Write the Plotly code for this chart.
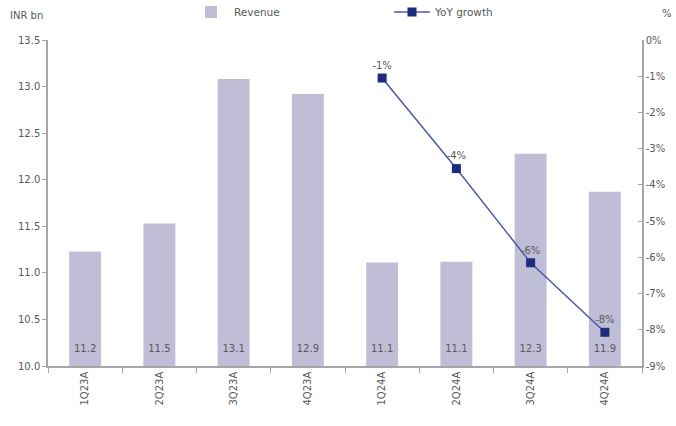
import plotly.graph_objects as go

quarters = ["1Q23A", "2Q23A", "3Q23A", "4Q23A", "1Q24A", "2Q24A", "3Q24A", "4Q24A"]
revenue = [11.23, 11.53, 13.08, 12.92, 11.11, 11.12, 12.28, 11.87]
yoy_quarters = ["1Q24A", "2Q24A", "3Q24A", "4Q24A"]
yoy_growth = [-1.05, -3.55, -6.15, -8.07]
left_ticks = [10.0, 10.5, 11.0, 11.5, 12.0, 12.5, 13.0, 13.5]
right_ticks = [0, -1, -2, -3, -4, -5, -6, -7, -8, -9]
label_base = 10.18  # vertical position of the bar value labels (INR bn axis)

FONT = "DejaVu Sans"
TXT = "#595959"
AX = "#A6A6A6"
L, R, T, B = 48, 34, 40, 60
W, H = 676, 426
pw, ph = W - L - R, H - T - B

fig = go.Figure()
fig.add_trace(go.Bar(
    x=quarters, y=revenue, name="Revenue",
    marker=dict(color="#BFBED6", line=dict(width=0)),
    width=0.43, yaxis="y", hoverinfo="x+y",
))
fig.add_trace(go.Scatter(
    x=quarters, y=[label_base] * len(quarters), mode="text",
    text=[f"{v:.1f}" for v in revenue], textposition="middle center",
    textfont=dict(family=FONT, size=10, color=TXT),
    showlegend=False, hoverinfo="skip", yaxis="y",
))
fig.add_trace(go.Scatter(
    x=yoy_quarters, y=yoy_growth, name="YoY growth",
    mode="lines+markers+text",
    line=dict(color="#4C5AA6", width=1.5),
    marker=dict(symbol="square", size=9, color="#1F2C7E"),
    text=[f"{round(v):.0f}%" for v in yoy_growth],
    textposition="top center",
    textfont=dict(family=FONT, size=10, color=TXT),
    yaxis="y2",
))

fig.update_layout(
    width=W, height=H,
    margin=dict(l=L, r=R, t=T, b=B, autoexpand=False),
    paper_bgcolor="white", plot_bgcolor="white",
    font=dict(family=FONT, size=10, color=TXT),
    showlegend=True,
    legend=dict(orientation="h", x=(188 - L) / pw, y=1 - 12 / H, xref="paper", yref="container",
                xanchor="left", yanchor="middle",
                entrywidth=150, entrywidthmode="pixels", itemwidth=36,
                font=dict(family=FONT, size=10.5, color=TXT), bgcolor="rgba(0,0,0,0)"),
    xaxis=dict(
        type="category", showline=True, linecolor=AX, linewidth=1.5,
        ticks="outside", tickson="boundaries", ticklen=5, tickcolor=AX,
        tickangle=-90, showgrid=False, zeroline=False,
        tickfont=dict(family=FONT, size=10, color=TXT),
    ),
    yaxis=dict(
        range=[10, 13.5], tickvals=left_ticks, ticktext=[f"{v:.1f}" for v in left_ticks],
        showline=True, linecolor=AX, linewidth=1.5, ticks="outside", ticklen=4,
        tickcolor=AX, showgrid=False, zeroline=False,
        tickfont=dict(family=FONT, size=10, color=TXT),
    ),
    yaxis2=dict(
        overlaying="y", side="right", range=[-9, 0],
        tickvals=right_ticks, ticktext=[f"{v}%" for v in right_ticks],
        showline=True, linecolor=AX, linewidth=1.5, ticks="inside", ticklen=4,
        tickcolor=AX, showgrid=False, zeroline=False,
        tickfont=dict(family=FONT, size=10, color=TXT),
    ),
    annotations=[
        dict(text="INR bn", x=(8 - L) / pw, y=1 + (T - 15) / ph, xref="paper", yref="paper",
             showarrow=False, xanchor="left", yanchor="middle",
             font=dict(family=FONT, size=10, color=TXT)),
        dict(text="%", x=(667 - L) / pw, y=1 + (T - 13) / ph, xref="paper", yref="paper",
             showarrow=False, xanchor="center", yanchor="middle",
             font=dict(family=FONT, size=10, color=TXT)),
    ],
)

fig.write_html("out.html")
